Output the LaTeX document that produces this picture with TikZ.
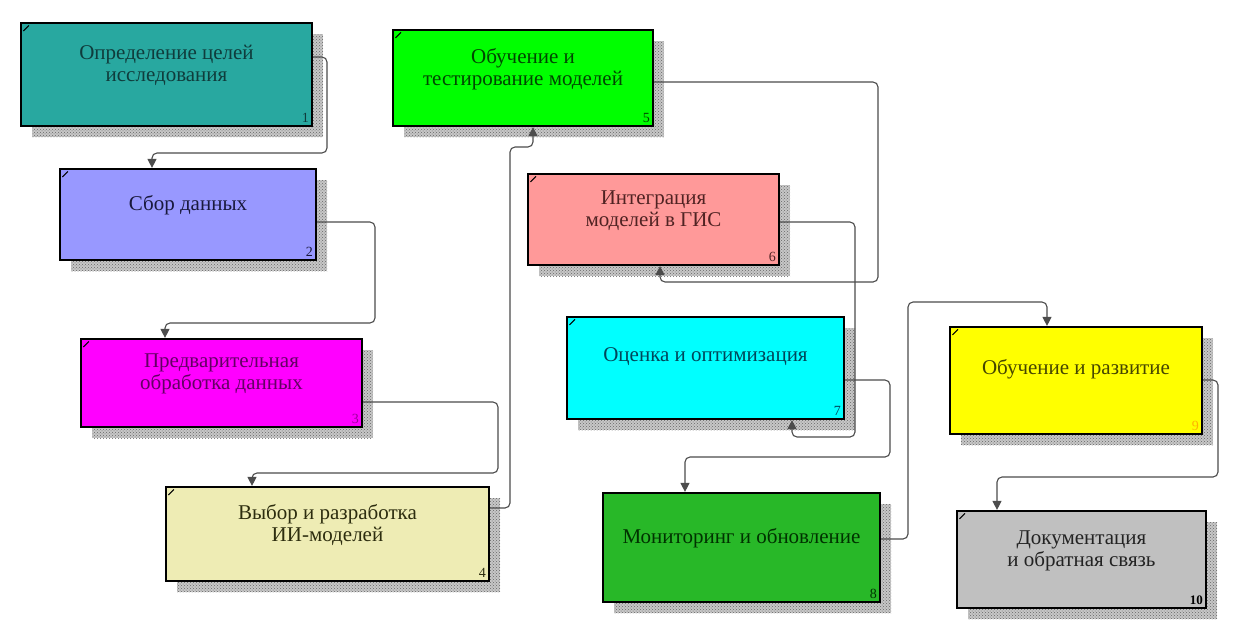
\documentclass[tikz,border=0pt]{standalone}
\usepackage{fontspec}
\setmainfont{Liberation Serif}
\usetikzlibrary{patterns,arrows.meta,shadows}
\definecolor{f1}{RGB}{40,168,160}\definecolor{t1}{RGB}{15,60,60}
\definecolor{f2}{RGB}{152,152,255}\definecolor{t2}{RGB}{25,25,60}
\definecolor{f3}{RGB}{255,0,255}\definecolor{t3}{RGB}{100,0,100}
\definecolor{f4}{RGB}{238,236,180}\definecolor{t4}{RGB}{45,45,15}
\definecolor{f5}{RGB}{0,255,0}\definecolor{t5}{RGB}{0,70,0}
\definecolor{f6}{RGB}{255,153,153}\definecolor{t6}{RGB}{80,35,35}
\definecolor{f7}{RGB}{0,255,255}\definecolor{t7}{RGB}{0,70,90}
\definecolor{f8}{RGB}{40,184,40}\definecolor{t8}{RGB}{0,50,0}
\definecolor{f9}{RGB}{255,255,0}\definecolor{t9}{RGB}{70,70,0}
\definecolor{f10}{RGB}{192,192,192}\definecolor{t10}{RGB}{35,35,35}
\begin{document}
\begin{tikzpicture}[x=1pt,y=-1pt,
  box/.style={draw=black, line width=2.2pt, inner sep=0pt,
    general shadow={shadow xshift=11pt, shadow yshift=-11pt, fill=black!22,
      postaction={pattern=crosshatch dots, pattern color=black!60}}},
  lbl/.style={font=\fontsize{21}{22}\selectfont, align=center, inner sep=0pt},
  num/.style={font=\fontsize{14}{15}\selectfont, inner sep=0pt, anchor=south east},
  conn/.style={draw=black!70, line width=1.1pt, rounded corners=5pt, -{Triangle[length=9pt,width=9pt]}},
  cornermark/.style={line width=1pt}]
\useasboundingbox (0,0) rectangle (1234,632);
\fill[white] (0,0) rectangle (1234,632);
% boxes
\node[box, fill=f1, minimum width=291pt, minimum height=103pt] (b1) at (166.5,74.5) {};
\node[box, fill=f2, minimum width=256pt, minimum height=91pt] (b2) at (188,214.5) {};
\node[box, fill=f3, minimum width=281pt, minimum height=88pt] (b3) at (221.5,383) {};
\node[box, fill=f4, minimum width=323pt, minimum height=94pt] (b4) at (327.5,534) {};
\node[box, fill=f5, minimum width=260pt, minimum height=96pt] (b5) at (523,78) {};
\node[box, fill=f6, minimum width=251pt, minimum height=91pt] (b6) at (653.5,219.5) {};
\node[box, fill=f7, minimum width=277pt, minimum height=102pt] (b7) at (705.5,368) {};
\node[box, fill=f8, minimum width=277pt, minimum height=109pt] (b8) at (741.5,547.5) {};
\node[box, fill=f9, minimum width=252pt, minimum height=107pt] (b9) at (1076,380.5) {};
\node[box, fill=f10, minimum width=249pt, minimum height=97pt] (b10) at (1081.5,559.5) {};
% corner marks
\foreach \b in {b1,b2,b3,b4,b5,b6,b7,b9,b10}
  \draw[cornermark] ([xshift=3.5pt,yshift=-9pt]\b.north west) -- ([xshift=9pt,yshift=-3.5pt]\b.north west);
% labels
\node[lbl, text=t1] (l1) at ([yshift=9pt]b1.center) {Определение целей\\исследования};
\node[lbl, text=t2] (l2) at ([yshift=9pt]b2.center) {Сбор данных};
\node[lbl, text=t3] (l3) at ([yshift=9pt]b3.center) {Предварительная\\обработка данных};
\node[lbl, text=t4] (l4) at ([yshift=9pt]b4.center) {Выбор и разработка\\ИИ-моделей};
\node[lbl, text=t5] (l5) at ([yshift=9pt]b5.center) {Обучение и\\тестирование моделей};
\node[lbl, text=t6] (l6) at ([yshift=9pt]b6.center) {Интеграция\\моделей в ГИС};
\node[lbl, text=t7] (l7) at ([yshift=11pt]b7.center) {Оценка и оптимизация};
\node[lbl, text=t8] (l8) at ([yshift=9pt]b8.center) {Мониторинг и обновление};
\node[lbl, text=t9] (l9) at ([yshift=11pt]b9.center) {Обучение и развитие};
\node[lbl, text=t10] (l10) at ([yshift=9pt]b10.center) {Документация\\и обратная связь};
% numbers
\node[num, text=t1] (n1) at ([xshift=-4pt,yshift=4pt]b1.south east) {1};
\node[num, text=t2] (n2) at ([xshift=-4pt,yshift=4pt]b2.south east) {2};
\node[num, text=f3!60!black] (n3) at ([xshift=-4pt,yshift=4pt]b3.south east) {3};
\node[num, text=t4] (n4) at ([xshift=-4pt,yshift=4pt]b4.south east) {4};
\node[num, text=t5] (n5) at ([xshift=-4pt,yshift=4pt]b5.south east) {5};
\node[num, text=t6] (n6) at ([xshift=-4pt,yshift=4pt]b6.south east) {6};
\node[num, text=t7] (n7) at ([xshift=-4pt,yshift=4pt]b7.south east) {7};
\node[num, text=t8] (n8) at ([xshift=-4pt,yshift=4pt]b8.south east) {8};
\node[num, text=orange!60!yellow] (n9) at ([xshift=-4pt,yshift=4pt]b9.south east) {9};
\node[num, text=black, font=\bfseries\fontsize{13}{14}\selectfont] (n10) at ([xshift=-4pt,yshift=4pt]b10.south east) {10};
% connectors
\draw[conn] (b1.east |- 0,57) -- (327,57) -- (327,153) -- (152,153) -- (b2.north -| 152,0);
\draw[conn] (b2.east |- 0,222) -- (375,222) -- (375,323) -- (165,323) -- (b3.north -| 165,0);
\draw[conn] (b3.east |- 0,402) -- (498,402) -- (498,473) -- (252,473) -- (b4.north -| 252,0);
\draw[conn] (b4.east |- 0,508) -- (510,508) -- (510,147) -- (533,147) -- (b5.south -| 533,0);
\draw[conn] (b5.east |- 0,82) -- (878,82) -- (878,282) -- (660,282) -- (b6.south -| 660,0);
\draw[conn] (b6.east |- 0,222) -- (855,222) -- (855,437) -- (792,437) -- (b7.south -| 792,0);
\draw[conn] (b7.east |- 0,380) -- (890,380) -- (890,457) -- (685,457) -- (b8.north -| 685,0);
\draw[conn] (b8.east |- 0,539) -- (908,539) -- (908,302) -- (1047,302) -- (b9.north -| 1047,0);
\draw[conn] (b9.east |- 0,380) -- (1218,380) -- (1218,477) -- (997,477) -- (b10.north -| 997,0);
\end{tikzpicture}
\end{document}
